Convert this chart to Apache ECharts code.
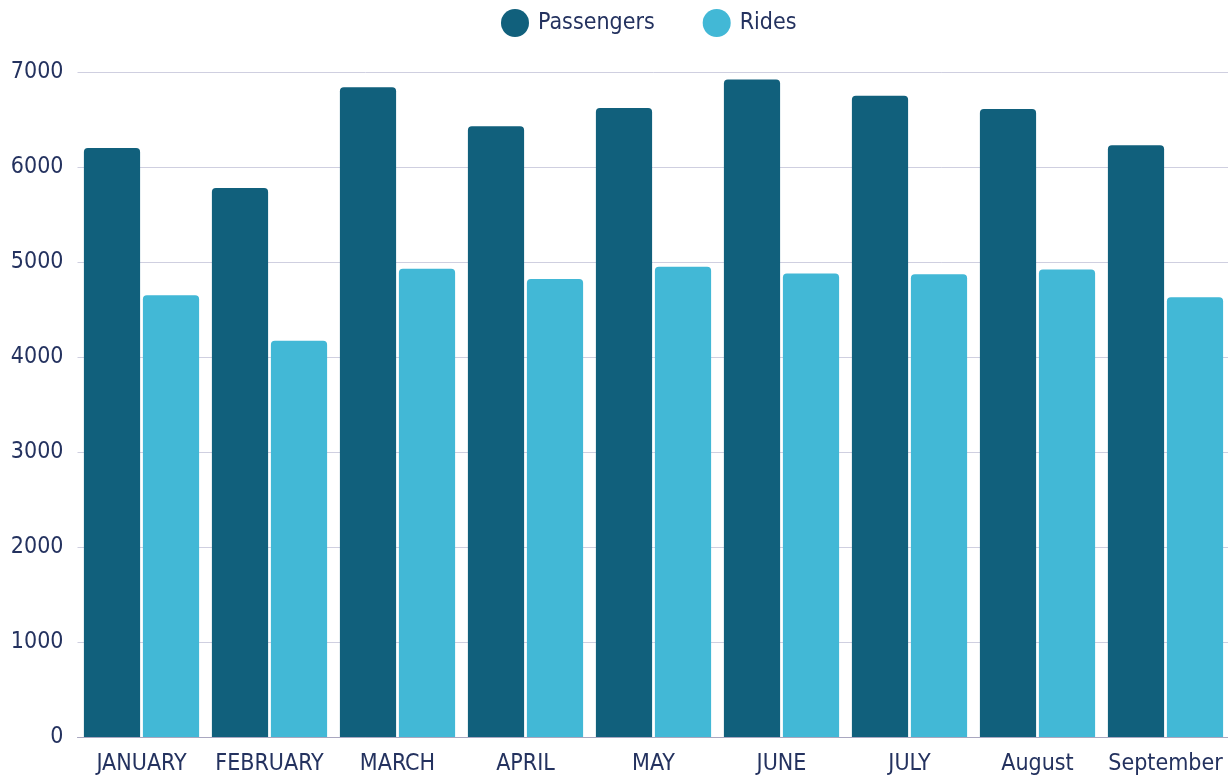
<!DOCTYPE html>
<html>
<head>
<meta charset="utf-8">
<script src="https://cdn.jsdelivr.net/npm/echarts@6/dist/echarts.min.js"></script>
<style>
    html, body { margin: 0; padding: 0; background: #fff; }
    #chart { width: 1228px; height: 781px; }
</style>
</head>
<body>
<div id="chart"></div>
<script>
// data
const months = ['JANUARY', 'FEBRUARY', 'MARCH', 'APRIL', 'MAY', 'JUNE', 'JULY', 'August', 'September'];
const passengers = [6200, 5780, 6840, 6430, 6620, 6920, 6750, 6610, 6230];
const rides = [4650, 4170, 4930, 4820, 4950, 4880, 4870, 4920, 4630];
const seriesNames = ['Passengers', 'Rides'];

const FONT = '"DejaVu Sans Condensed", "Liberation Sans Narrow", "Noto Sans", sans-serif';
const TEXT = '#24325f';

const chart = echarts.init(document.getElementById('chart'));
chart.setOption({
    animation: false,
    color: ['#11607c', '#42b8d6'],
    legend: {
        top: 4,
        left: 496,
        icon: 'circle',
        itemWidth: 28,
        itemHeight: 28,
        itemGap: 48,
        textStyle: { fontFamily: FONT, fontSize: 23, color: TEXT, padding: [0, 0, 0, 4] },
        data: seriesNames
    },
    grid: {
        left: 77.5,
        top: 72,
        width: 1152,
        bottom: 44,
        outerBoundsMode: 'none'
    },
    xAxis: {
        type: 'category',
        data: months,
        axisLine: { lineStyle: { color: '#a9a7c0', width: 1 } },
        axisTick: { show: false },
        axisLabel: { interval: 0, fontFamily: FONT, fontSize: 23, color: TEXT, margin: 16 }
    },
    yAxis: {
        type: 'value',
        min: 0,
        max: 7000,
        interval: 1000,
        axisLine: { show: false },
        axisTick: { show: false },
        splitLine: { lineStyle: { color: '#cfcfe0' } },
        axisLabel: {
            fontFamily: FONT, fontSize: 23, color: TEXT, margin: 14,
            formatter: v => String(v)
        }
    },
    series: [
        {
            name: seriesNames[0],
            type: 'bar',
            data: passengers,
            barGap: '5%',
            barCategoryGap: '10%',
            itemStyle: { borderRadius: [4, 4, 0, 0] }
        },
        {
            name: seriesNames[1],
            type: 'bar',
            data: rides,
            barGap: '5%',
            barCategoryGap: '10%',
            itemStyle: { borderRadius: [4, 4, 0, 0] }
        }
    ]
});
</script>
</body>
</html>
